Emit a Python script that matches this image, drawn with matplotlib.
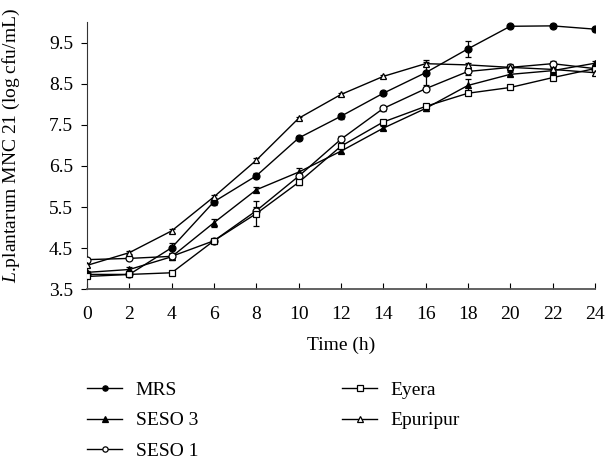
import matplotlib
matplotlib.use("Agg")
import matplotlib.pyplot as plt

plt.rcParams['font.family'] = ['Liberation Serif', 'DejaVu Serif']
plt.rcParams['mathtext.fontset'] = 'custom'
plt.rcParams['mathtext.it'] = 'Liberation Serif:italic'
plt.rcParams['mathtext.rm'] = 'Liberation Serif'

hours = [0, 2, 4, 6, 8, 10, 12, 14, 16, 18, 20, 22, 24]

mrs = [3.86, 3.86, 4.51, 5.63, 6.26, 7.18, 7.71, 8.27, 8.77, 9.35, 9.90, 9.91, 9.83]
mrs_err = [0.03, 0.03, 0.12, 0.08, 0.06, 0.04, 0.06, 0.05, 0.3, 0.2, 0.04, 0.05, 0.04]

seso3 = [3.91, 3.98, 4.29, 5.12, 5.92, 6.35, 6.86, 7.42, 7.90, 8.46, 8.73, 8.82, 9.00]
seso3_err = [0.04, 0.05, 0.08, 0.1, 0.06, 0.1, 0.05, 0.05, 0.05, 0.15, 0.05, 0.06, 0.05]

seso1 = [4.22, 4.25, 4.30, 4.68, 5.41, 6.25, 7.15, 7.90, 8.38, 8.80, 8.90, 8.99, 8.87]
seso1_err = [0.05, 0.04, 0.05, 0.04, 0.1, 0.06, 0.08, 0.05, 0.05, 0.08, 0.08, 0.06, 0.05]

eyera = [3.81, 3.86, 3.90, 4.68, 5.34, 6.10, 6.98, 7.57, 7.95, 8.27, 8.41, 8.65, 8.87]
eyera_err = [0.03, 0.03, 0.03, 0.04, 0.3, 0.06, 0.06, 0.05, 0.04, 0.04, 0.04, 0.06, 0.05]

epuripur = [4.08, 4.39, 4.92, 5.75, 6.64, 7.66, 8.24, 8.68, 8.99, 8.96, 8.90, 8.85, 8.77]
epuripur_err = [0.03, 0.04, 0.04, 0.05, 0.05, 0.04, 0.04, 0.04, 0.05, 0.04, 0.05, 0.05, 0.05]

series = [
    ("MRS", mrs, mrs_err, "o", "black"),
    ("SESO 3", seso3, seso3_err, "^", "black"),
    ("SESO 1", seso1, seso1_err, "o", "white"),
    ("Eyera", eyera, eyera_err, "s", "white"),
    ("Epuripur", epuripur, epuripur_err, "^", "white"),
]

fig = plt.figure(figsize=(6.06, 4.62), dpi=100)
ax = fig.add_axes([0.1436, 0.374, 0.838, 0.578])

handles = []
for name, vals, err, mk, fc in series:
    ax.errorbar(hours, vals, yerr=err, fmt='none', ecolor='black',
                elinewidth=0.9, capsize=2.5, capthick=0.9, zorder=2)
    ax.plot(hours, vals, color='black', lw=1.0, marker=mk,
            markersize=5, markerfacecolor=fc, markeredgecolor='black',
            markeredgewidth=0.9, zorder=3)
    # legend entry with smaller marker
    h, = ax.plot([], [], color='black', lw=1.0, marker=mk, markersize=3.8,
                 markerfacecolor=fc, markeredgecolor='black',
                 markeredgewidth=0.9, label=name)
    handles.append(h)

ax.set_xlim(0, 24)
ax.set_ylim(3.5, 10.0)
ax.set_xticks(hours)
ax.set_yticks([3.5, 4.5, 5.5, 6.5, 7.5, 8.5, 9.5])
ax.set_yticklabels(['3.5', '4.5', '5.5', '6.5', '7.5', '8.5', '9.5'])
ax.spines['top'].set_visible(False)
ax.spines['right'].set_visible(False)
ax.spines['left'].set_color('#333333')
ax.spines['bottom'].set_color('#555555')
ax.spines['bottom'].set_linewidth(1.3)
ax.tick_params(axis='x', direction='in', length=4, labelsize=14, pad=12)
ax.tick_params(axis='y', direction='out', length=4, labelsize=14, pad=6)

ax.set_xlabel('Time (h)', fontsize=14, labelpad=10)
ax.set_ylabel(r'$\mathit{L}$.plantarum MNC 21 (log cfu/mL)', fontsize=14)
ax.yaxis.set_label_coords(-0.128, 0.54)

fig.legend(handles=handles, loc='upper left', bbox_to_anchor=(0.115, 0.212),
           ncol=2, frameon=False, fontsize=14, handlelength=1.8,
           handletextpad=0.7, columnspacing=7.4, labelspacing=0.65)

fig.savefig("out.png", dpi=100)
